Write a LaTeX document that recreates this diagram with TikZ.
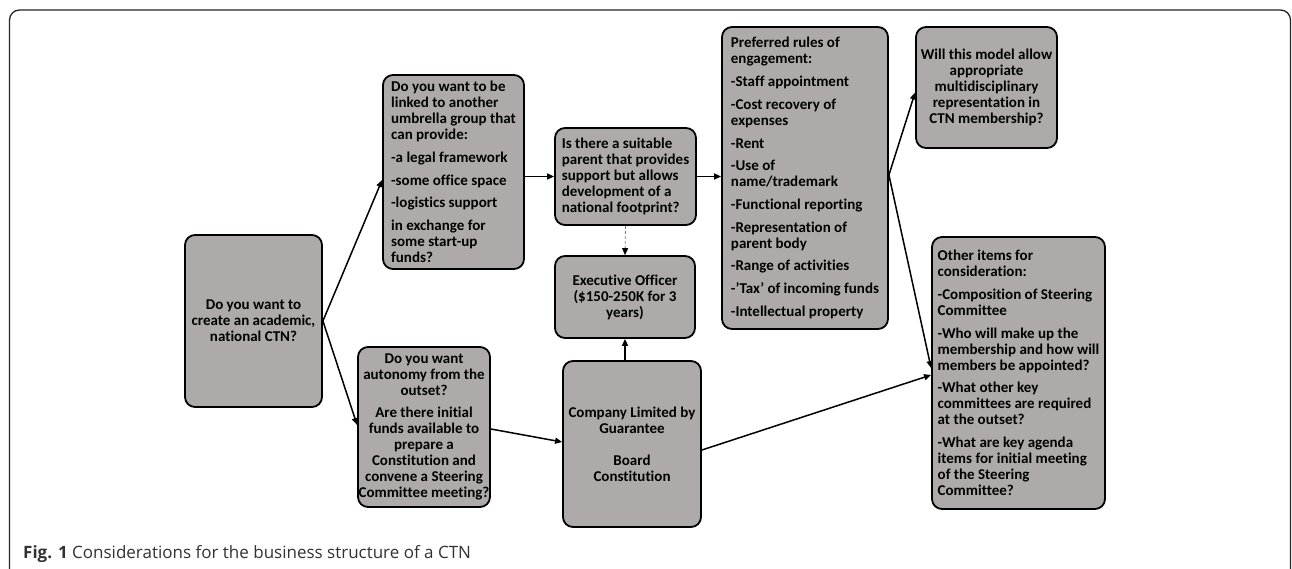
\documentclass[tikz,border=0pt]{standalone}
\usepackage{fontspec}
\setmainfont{Carlito}[Ligatures=NoCommon]
\newfontfamily\capfont{Open Sans}[Ligatures=NoCommon]
\usetikzlibrary{arrows.meta,calc}
\definecolor{boxgray}{RGB}{174,170,170}
\definecolor{captxt}{RGB}{50,50,50}
\begin{document}
\begin{tikzpicture}[x=1pt,y=-1pt,
  box/.style={draw=black, line width=1.8pt, fill=boxgray, rounded corners=10pt,
    inner sep=0pt, font=\fontsize{15}{16}\selectfont\bfseries},
  conn/.style={line width=1.5pt, -{Triangle[length=7pt,width=6pt]}},
  dconn/.style={line width=0.8pt, draw=gray, dashed, dash pattern=on 3pt off 2pt,
    -{Triangle[length=7pt,width=6pt,color=black]}}]
\useasboundingbox (0,0) rectangle (1292,569);
\fill[white] (0,0) rectangle (1292,569);
% outer frame
\draw[line width=1.3pt, draw=black!85, rounded corners=10pt]
  (9.5,575) -- (9.5,10) -- (1290.5,10) -- (1290.5,575);

\node[box, minimum width=137, minimum height=172, align=center] (A) at (253.5,321)
  {Do you want to\\create an academic,\\national CTN?};
\node[box, minimum width=141, minimum height=194, align=left] (B) at (453.5,172)
  {Do you want to be\\linked to another\\umbrella group that\\can provide:\\[6.7pt]-a legal framework\\[6.7pt]-some office space\\[6.7pt]-logistics support\\[6.7pt]in exchange for\\some start-up\\funds?};
\node[box, minimum width=132, minimum height=160, align=center] (C) at (424,427)
  {Do you want\\autonomy from the\\outset?\\[6.7pt]Are there initial\\funds available to\\prepare a\\Constitution and\\convene a Steering\\Committee meeting?};
\node[box, minimum width=141, minimum height=97, align=left] (D) at (625.5,176.5)
  {Is there a suitable\\parent that provides\\support but allows\\development of a\\national footprint?};
\node[box, minimum width=140, minimum height=82, align=center] (E) at (625,297)
  {Executive Officer\\(\$150-250K for 3\\years)};
\node[box, minimum width=138, minimum height=166, align=center] (F) at (632,444)
  {Company Limited by\\Guarantee\\[16pt]Board\\Constitution};
\node[box, minimum width=166, minimum height=302, align=left] (G) at (805,178)
  {Preferred rules of\\engagement:\\[6.7pt]-Staff appointment\\[6.7pt]-Cost recovery of\\expenses\\[6.7pt]-Rent\\[6.7pt]-Use of\\name/trademark\\[6.7pt]-Functional reporting\\[6.7pt]-Representation of\\parent body\\[6.7pt]-Range of activities\\[6.7pt]-’Tax’ of incoming funds\\[6.7pt]-Intellectual property};
\node[box, minimum width=141, minimum height=121, align=center] (H) at (986.5,87.5)
  {Will this model allow\\appropriate\\multidisciplinary\\representation in\\CTN membership?};
\node[box, minimum width=173, minimum height=272, align=left] (I) at (1018.5,373)
  {Other items for\\consideration:\\[6.7pt]-Composition of Steering\\Committee\\[6.7pt]-Who will make up the\\membership and how will\\members be appointed?\\[6.7pt]-What other key\\committees are required\\at the outset?\\[6.7pt]-What are key agenda\\items for initial meeting\\of the Steering\\Committee?};

\coordinate (gs) at ([yshift=3pt]G.east);
\coordinate (fs) at ([yshift=-6pt]F.east);

\draw[conn] (A.east) -- ([yshift=-8pt]B.west);
\draw[conn] (A.east) -- ([yshift=2pt]C.west);
\draw[conn] (D.west -| B.east) -- (D.west);
\draw[conn] (D.east) -- (D.east -| G.west);
\draw[dconn] (D.south) -- (E.north);
\draw[conn] (E.south |- F.north) -- (E.south);
\draw[conn] ([yshift=-2pt]C.east) -- ([yshift=2pt]F.west);
\draw[conn] (fs) -- ([yshift=-2pt]I.west);
\draw[conn] (gs) -- ([yshift=-5pt]H.west);
\draw[conn] (gs) -- ([yshift=5pt]I.west);

\node[anchor=base west, inner sep=0pt, text=captxt, font=\capfont\fontsize{17}{20}\selectfont] (cap) at (23,558)
  {\textbf{Fig. 1} Considerations for the business structure of a CTN};
\end{tikzpicture}
\end{document}
